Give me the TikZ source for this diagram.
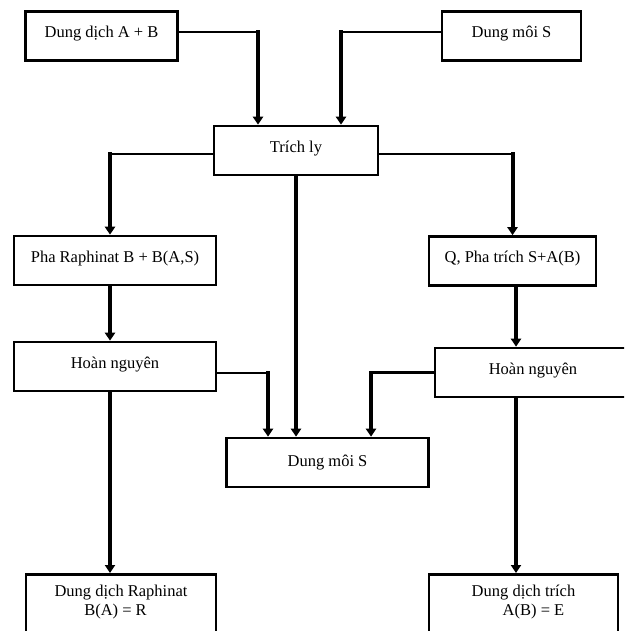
\documentclass[tikz,border=0pt]{standalone}
\usepackage{fontspec}
\setmainfont{Liberation Serif}
\usetikzlibrary{arrows.meta}
\tikzset{>={Triangle[width=10pt,length=8pt]}}
\tikzset{box/.style={draw, line width=2.6pt, rectangle, inner sep=0pt,
    font=\fontsize{16.5}{19}\selectfont, align=center, text height=11pt, text depth=7.5pt}}
\tikzset{flow/.style={->, line width=4pt, line cap=rect}}
\tikzset{hline/.style={line width=2.6pt}}

\begin{document}
\begin{tikzpicture}[x=1pt, y=1pt]
    \useasboundingbox(0, 0)rectangle(624, -631);
    \clip(0, 0)rectangle(624, -631);
    % boxes
    \node[box, minimum width=152, minimum height=49](ab) at(101.5, -36){Dung dịch A + B};
    \node[box, minimum width=139, minimum height=49](stop) at(511.5, -36){Dung môi S};
    \node[box, minimum width=164, minimum height=49](trich) at(296, -150.5){Trích ly};
    \node[box, minimum width=202, minimum height=49](pha) at(115, -260.5){Pha Raphinat B + B(A,S)};
    \node[box, minimum width=167, minimum height=49](q) at(512.5, -261){Q, Pha trích S+A(B)};
    \node[box, minimum width=202, minimum height=49](hnl) at(115, -366.5){Hoàn nguyên};
    \node[box, minimum width=196, minimum height=49](hnr) at(533, -372.5){Hoàn nguyên};
    \node[box, minimum width=202, minimum height=49, text depth=4pt](smid) at(327.5, -462.5){Dung môi S};
    \node[box, minimum width=190, anchor=north, inner ysep=11pt, text height=30pt, text depth=60pt](raf) at(121, -573)
        {Dung dịch Raphinat\\B(A) = R\hspace*{11pt}};
    \node[box, minimum width=189, anchor=north, inner ysep=11pt, text height=30pt, text depth=60pt](tri) at(523.5, -573)
        {Dung dịch trích\\\hspace*{20pt}A(B) = E};
    % inputs
    \path([xshift=-38pt]trich.north) coordinate(t1) ([xshift=45pt]trich.north) coordinate(t2);
    \draw[hline]([yshift=4pt]ab.east) -- ([yshift=4pt]ab.east -| t1) coordinate(e1);
    \draw[flow](e1) -- (t1);
    \draw[hline]([yshift=4pt]stop.west) -- ([yshift=4pt]stop.west -| t2) coordinate(e2);
    \draw[flow](e2) -- (t2);
    % split
    \path([xshift=-5pt]pha.north) coordinate(p1);
    \draw[hline]([yshift=-3.5pt]trich.west) -- ([yshift=-3.5pt]trich.west -| p1) coordinate(e3);
    \draw[flow](e3) -- (p1);
    \draw[hline]([yshift=-3.5pt]trich.east) -- ([yshift=-3.5pt]trich.east -| q.north) coordinate(e4);
    \draw[flow](e4) -- (q.north);
    \draw[flow](trich.south) -- (trich.south |- smid.north);
    \draw[flow]([xshift=-5pt]pha.south) -- ([xshift=-5pt]hnl.north);
    \draw[flow]([xshift=3.5pt]q.south) -- ([xshift=3.5pt]q.south |- hnr.north);
    % recovery of solvent
    \path([xshift=-59.5pt]smid.north) coordinate(s1) ([xshift=43.5pt]smid.north) coordinate(s2);
    \draw[hline]([yshift=-6.5pt]hnl.east) -- ([yshift=-6.5pt]hnl.east -| s1) coordinate(e5);
    \draw[flow](e5) -- (s1);
    \draw[hline](hnr.west) -- (hnr.west -| s2) coordinate(e6);
    \draw[flow](e6) -- (s2);
    % products
    \draw[flow]([xshift=-5pt]hnl.south) -- ([xshift=-11pt]raf.north);
    \draw[flow]([xshift=-17pt]hnr.south) -- ([xshift=-7.5pt]tri.north);
\end{tikzpicture}
\end{document}
